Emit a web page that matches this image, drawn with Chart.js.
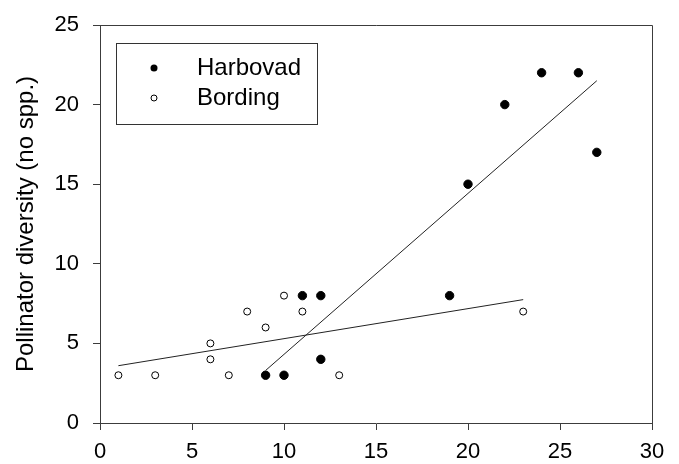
<!DOCTYPE html>
<html>
<head>
<meta charset="utf-8">
<script src="https://cdn.jsdelivr.net/npm/chart.js@4.4.1/dist/chart.umd.min.js"></script>
<style>
  html, body { margin: 0; padding: 0; background: #fff; }
  canvas { display: block; }
</style>
</head>
<body>
<canvas id="chart" width="679" height="464"></canvas>
<script>
// Dados
const harbovadX = [9, 10, 11, 12, 12, 19, 20, 22, 24, 26, 27];
const harbovadY = [3, 3, 8, 8, 4, 8, 15, 20, 22, 22, 17];
const bordingX = [1, 3, 6, 6, 7, 8, 9, 10, 11, 13, 23];
const bordingY = [3, 3, 5, 4, 3, 7, 6, 8, 7, 3, 7];

// Linhas de tendência (extremos)
const harbovadFitX = [9, 27];
const harbovadFitY = [3.3, 21.5];
const bordingFitX = [1, 23];
const bordingFitY = [3.6, 7.75];

const xTicks = [0, 5, 10, 15, 20, 25, 30];
const yTicks = [0, 5, 10, 15, 20, 25];

const seriesNames = ['Harbovad', 'Bording'];
const yTitle = 'Pollinator diversity (no spp.)';

function toPoints(xs, ys) {
    return xs.map((x, i) => ({ x: x, y: ys[i] }));
}

const axisColor = '#3c3c3c';
const fontFamily = "'Liberation Sans', Arial, sans-serif";

// Caixa do gráfico + legenda dentro da área
const boxAndLegend = {
    id: 'boxAndLegend',
    afterDraw(chart) {
        const ctx = chart.ctx;
        const a = chart.chartArea;
        ctx.save();
        ctx.strokeStyle = axisColor;
        ctx.lineWidth = 1;
        ctx.beginPath();
        ctx.moveTo(a.left, a.top + 0.5);
        ctx.lineTo(a.right + 0.5, a.top + 0.5);
        ctx.lineTo(a.right + 0.5, a.bottom);
        ctx.stroke();

        // legenda
        const lx = a.left + 16, ly = a.top + 18, lw = 201, lh = 81;
        ctx.strokeStyle = '#333';
        ctx.strokeRect(lx + 0.5, ly + 0.5, lw, lh);
        ctx.font = '24px ' + fontFamily;
        ctx.textBaseline = 'alphabetic';
        ctx.textAlign = 'left';
        // Harbovad
        ctx.beginPath();
        ctx.arc(lx + 38, ly + 25, 3.5, 0, Math.PI * 2);
        ctx.fillStyle = '#000';
        ctx.fill();
        ctx.fillText(seriesNames[0], lx + 81, ly + 32);
        // Bording
        ctx.beginPath();
        ctx.arc(lx + 38, ly + 55, 3, 0, Math.PI * 2);
        ctx.fillStyle = '#fff';
        ctx.fill();
        ctx.strokeStyle = '#000';
        ctx.stroke();
        ctx.fillStyle = '#000';
        ctx.fillText(seriesNames[1], lx + 81, ly + 62);
        ctx.restore();
    }
};

const ctx = document.getElementById('chart').getContext('2d');
const chart = new Chart(ctx, {
    type: 'scatter',
    data: {
        datasets: [
            {
                label: seriesNames[0] + ' fit',
                data: toPoints(harbovadFitX, harbovadFitY),
                showLine: true,
                borderColor: '#222',
                borderWidth: 1,
                pointRadius: 0
            },
            {
                label: seriesNames[1] + ' fit',
                data: toPoints(bordingFitX, bordingFitY),
                showLine: true,
                borderColor: '#222',
                borderWidth: 1,
                pointRadius: 0
            },
            {
                label: seriesNames[0],
                data: toPoints(harbovadX, harbovadY),
                backgroundColor: '#000',
                borderColor: '#000',
                borderWidth: 1,
                pointRadius: 4.2
            },
            {
                label: seriesNames[1],
                data: toPoints(bordingX, bordingY),
                backgroundColor: '#fff',
                borderColor: '#000',
                borderWidth: 1,
                pointRadius: 3.5
            }
        ]
    },
    options: {
        responsive: false,
        animation: false,
        devicePixelRatio: 1,
        layout: { padding: { left: 0, top: 25, right: 27, bottom: 0 } },
        plugins: {
            legend: { display: false },
            tooltip: { enabled: false }
        },
        scales: {
            x: {
                type: 'linear',
                min: 0,
                max: 30,
                afterBuildTicks(axis) { axis.ticks = xTicks.map(v => ({ value: v })); },
                afterFit(axis) {
                    axis.height = 41;
                    axis.paddingLeft = 0;
                    axis.paddingRight = 0;
                },
                grid: { drawOnChartArea: false, drawTicks: true, tickLength: 7, color: axisColor },
                border: { display: true, color: axisColor, width: 1 },
                ticks: { color: '#000', padding: 9, font: { family: fontFamily, size: 22 } }
            },
            y: {
                type: 'linear',
                min: 0,
                max: 25,
                afterBuildTicks(axis) { axis.ticks = yTicks.map(v => ({ value: v })); },
                afterFit(axis) {
                    axis.width = 100;
                    axis.paddingTop = 0;
                    axis.paddingBottom = 0;
                },
                grid: { drawOnChartArea: false, drawTicks: true, tickLength: 7, color: axisColor },
                border: { display: true, color: axisColor, width: 1 },
                ticks: { color: '#000', padding: 14, font: { family: fontFamily, size: 22 } },
                title: {
                    display: true,
                    text: yTitle,
                    color: '#000',
                    padding: { top: 12, bottom: 0 },
                    font: { family: fontFamily, size: 24 }
                }
            }
        }
    },
    plugins: [boxAndLegend]
});
</script>
</body>
</html>
